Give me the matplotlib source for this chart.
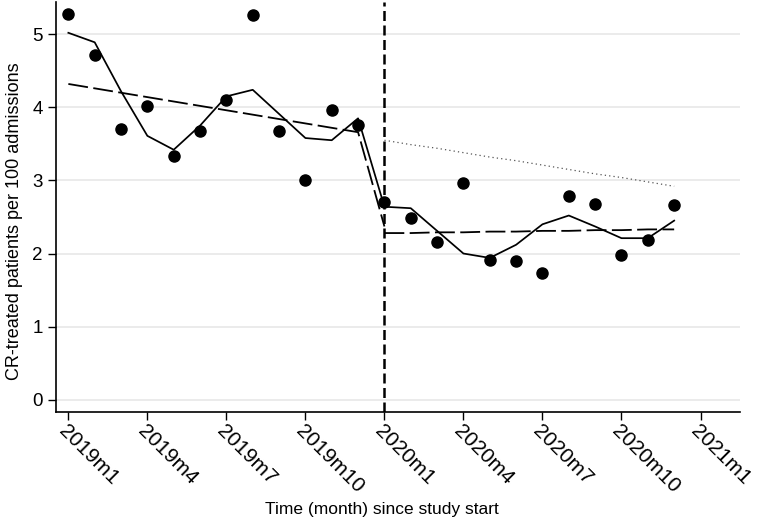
import matplotlib
matplotlib.use("Agg")
import matplotlib.pyplot as plt

plt.rcParams['font.family'] = ['Liberation Sans', 'DejaVu Sans']

# months since 2019m1
months = list(range(24))
observed = [5.28, 4.71, 3.71, 4.02, 3.33, 3.67, 4.10, 5.26, 3.67, 3.00, 3.96, 3.76,
            2.70, 2.49, 2.16, 2.96, 1.91, 1.90, 1.74, 2.79, 2.68, 1.98, 2.18, 2.66]
smoothed = [5.02, 4.89, 4.22, 3.61, 3.42, 3.75, 4.15, 4.24, 3.91, 3.58, 3.55, 3.85,
            2.64, 2.62, 2.31, 2.00, 1.94, 2.12, 2.40, 2.52, 2.37, 2.21, 2.21, 2.45]

# segmented regression fit
pre_months = list(range(13))
pre_fit = [4.32, 4.26, 4.20, 4.14, 4.08, 4.02, 3.96, 3.90, 3.84, 3.78, 3.72, 3.66, 2.37]
post_months = list(range(12, 24))
post_fit = [2.28, 2.28, 2.29, 2.29, 2.30, 2.30, 2.31, 2.31, 2.32, 2.32, 2.33, 2.33]
counterfactual = [3.55, 3.49, 3.44, 3.38, 3.32, 3.27, 3.21, 3.15, 3.09, 3.04, 2.98, 2.92]

intervention = 12
tick_pos = [0, 3, 6, 9, 12, 15, 18, 21, 24]
tick_labels = ['2019m1', '2019m4', '2019m7', '2019m10', '2020m1',
               '2020m4', '2020m7', '2020m10', '2021m1']

fig = plt.figure(figsize=(7.6, 5.25), dpi=100)
ax = fig.add_axes([0.0733, 0.215, 0.9004, 0.781])

ax.set_xlim(-0.48, 25.5)
ax.set_ylim(-0.17, 5.44)

for y in range(6):
    ax.axhline(y, color='#e6e6e6', lw=1.1, zorder=0)

ax.plot(months, observed, 'o', color='black', markersize=8, zorder=5)
ax.plot(months, smoothed, '-', color='black', lw=1.25, zorder=4)
ax.plot(pre_months, pre_fit, color='black', lw=1.3, dashes=(11, 3), zorder=3)
ax.plot(post_months, post_fit, color='black', lw=1.3, dashes=(11, 3), zorder=3)
ax.plot(post_months, counterfactual, color='#555555', lw=0.9,
        linestyle=(0, (1, 2.5)), zorder=3)
ax.axvline(intervention, color='black', lw=1.8, dashes=(4, 1.8), zorder=2)

ax.set_xticks(tick_pos)
ax.set_xticklabels(tick_labels, rotation=-45, ha='left', va='top',
                   rotation_mode='anchor', fontsize=15)
ax.set_yticks(range(6))
ax.tick_params(axis='y', labelsize=13.5, length=6, width=1)
ax.tick_params(axis='x', length=6, width=1, pad=1)

for s in ['top', 'right']:
    ax.spines[s].set_visible(False)
for s in ['left', 'bottom']:
    ax.spines[s].set_linewidth(1.2)

ax.set_ylabel('CR-treated patients per 100 admissions', fontsize=13)
ax.set_xlabel('Time (month) since study start', fontsize=12.5)
ax.yaxis.set_label_coords(-0.048, 0.466)
ax.xaxis.set_label_coords(0.477, -0.22)

fig.savefig('out.png', dpi=100)
